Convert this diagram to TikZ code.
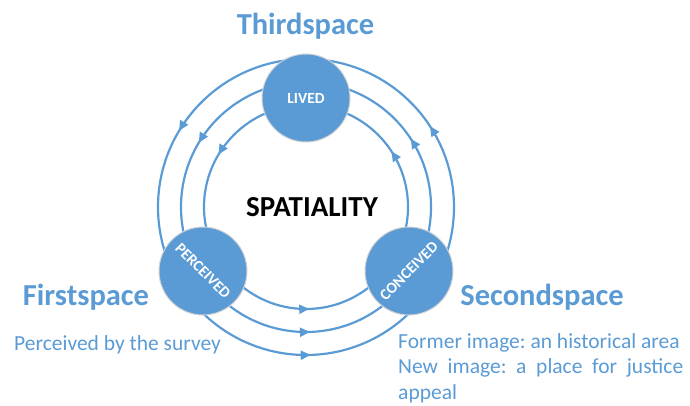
\documentclass[tikz,border=0pt]{standalone}
\usepackage{fontspec}
\setmainfont{Carlito}
\usetikzlibrary{arrows.meta,decorations.markings}
\definecolor{ob}{HTML}{5B9BD5}
\tikzset{
  ring/.style={draw=ob, line width=2.2pt, postaction={decorate}, decoration={markings,
    mark=at position 0.092 with {\arrow{Triangle[length=10pt,width=9pt]}},
    mark=at position 0.414 with {\arrow{Triangle[length=10pt,width=9pt]}},
    mark=at position 0.755 with {\arrow{Triangle[length=10pt,width=9pt]}}}},
  bubble/.style={circle, fill=ob, draw=gray!35, line width=1pt, minimum size=88pt, inner sep=0pt,
    text=white, font=\fontsize{15.5}{17}\selectfont\bfseries},
  title/.style={text=ob, font=\fontsize{30.5}{33}\selectfont\bfseries, inner sep=0pt, anchor=base},
  body/.style={text=ob, font=\fontsize{21.5}{25.5}\selectfont, inner sep=0pt}
}
\begin{document}
\begin{tikzpicture}[x=1pt,y=1pt]
\useasboundingbox (0,0) rectangle (690,405);
\coordinate (c) at (306,198);
\draw[ring] (c) circle[radius=102];
\draw[ring] (c) circle[radius=125];
\draw[ring] (c) circle[radius=148];
\node[bubble] (lived) at (306,307) {LIVED};
\node[bubble] (perceived) at (203,134) {\rotatebox{-45}{PERCEIVED}};
\node[bubble] (conceived) at (409,134) {\rotatebox{45}{CONCEIVED}};
\node[title] (third) at (305.5,370) {Thirdspace};
\node[title] (first) at (86,100) {Firstspace};
\node[title] (second) at (542,100) {Secondspace};
\node[inner sep=0pt, font=\fontsize{29}{32}\selectfont\bfseries] (spat) at (312,198) {SPATIALITY};
\node[body, anchor=base west] (perc) at (14,55) {Perceived by the survey};
\node[body, anchor=north west, align=left] (sec) at (398,72) {\frenchspacing Former image: an historical area\\\makebox[285pt][s]{\frenchspacing New image: a place for justice}\\appeal};
\end{tikzpicture}
\end{document}
